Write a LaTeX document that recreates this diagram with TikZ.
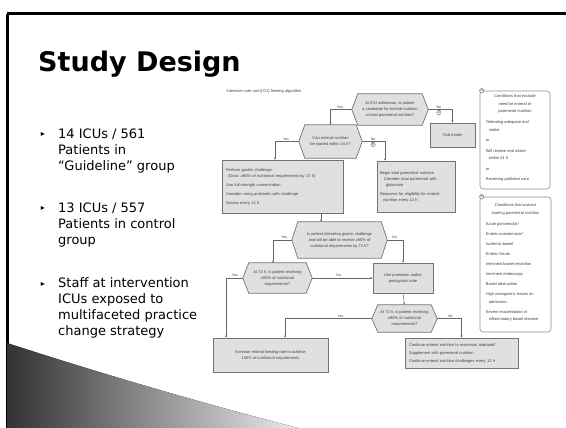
\documentclass[tikz,border=0pt]{standalone}
\usepackage{fontspec}
\setmainfont{DejaVu Sans}
\newfontfamily\chartfont{Liberation Sans}
\usetikzlibrary{arrows.meta, backgrounds}

\begin{document}
\begin{tikzpicture}[x=1pt, y=-1pt,
    box/.style={draw=black!55, fill=black!12, line width=0.7pt, inner sep=0pt, text=black!75, font=\chartfont\fontsize{4}{6}\selectfont},
    hexa/.style={inner sep=0pt, align=center, text=black!75, font=\chartfont\fontsize{4}{6}\selectfont},
    hexline/.style={draw=black!55, fill=black!12, line width=0.7pt},
    panel/.style={draw=black!45, rounded corners=3pt, line width=0.6pt, fill=white},
    plain/.style={inner sep=0pt, text=black!75, font=\chartfont\fontsize{4}{7.5}\selectfont},
    lbl/.style={inner sep=0.8pt, text=black!75, font=\chartfont\fontsize{3.6}{4}\selectfont},
    ltr/.style={draw=black!60, fill=white, circle, inner sep=0.4pt, line width=0.4pt, text=black!75, font=\chartfont\fontsize{3.4}{4}\selectfont},
    arr/.style={draw=black!60, line width=0.5pt, -{Stealth[length=2.2pt, width=2pt]}},
    bullet/.style={anchor=base west, align=left, inner sep=0pt, font=\fontsize{13}{16.3}\selectfont},
    bulmark/.style={anchor=base, inner sep=0pt, font=\fontsize{8}{8}\selectfont}
]
\useasboundingbox (0,0) rectangle (566,428);
\clip (0,0) rectangle (566,428);

% slide frame and swoosh
\draw[line width=3pt] (7,14) -- (580,14);
\draw[line width=3pt] (7,14) -- (7,440);
\fill[left color=black!80, right color=black!8] (7,343) .. controls (90,370) and (190,400) .. (298,428) -- (7,428) -- cycle;

\node[anchor=base west, inner sep=0pt, font=\fontsize{27}{30}\selectfont\bfseries] (title) at (38,72) {Study Design};

% bullets (base = last line)
\node[bulmark] (d1) at (43,137) {▸};
\node[bullet] (b1) at (58,170.6) {14 ICUs / 561\\Patients in\\“Guideline” group};
\node[bulmark] (d2) at (43,211) {▸};
\node[bullet] (b2) at (58,244.6) {13 ICUs / 557\\Patients in control\\group};
\node[bulmark] (d3) at (43,286) {▸};
\node[bullet] (b3) at (58,335.9) {Staff at intervention\\ICUs exposed to\\multifaceted practice\\change strategy};

% feeding algorithm
\node[plain] (cap) at (264,91) {Intensive care unit (ICU) feeding algorithm};

\node[hexa, minimum width=76, minimum height=31] (q1) at (390,109.5) {At ICU admission, is patient\\a candidate for enteral nutrition\\or total parenteral nutrition?};
\node[box, minimum width=45, minimum height=24] (oral) at (452.5,135) {Oral intake};
\node[hexa, minimum width=63, minimum height=33] (q2) at (330.5,141.5) {Can enteral nutrition\\be started within 24 h?};
\node[box, minimum width=121, minimum height=53, align=left, text width=113] (perf) at (282.5,186.5) {Perform gastric challenge\\\hspace{2pt}(Goal: ≥80\% of nutritional requirements by 72 h)\\[3pt]Use full-strength concentration\\[3pt]Consider using prokinetic with challenge\\[3pt]Assess every 12 h};
\node[box, minimum width=78, minimum height=51, align=left, text width=72] (tpn) at (416,186.5) {Begin total parenteral nutrition\\\hspace{4pt}Consider total parenteral with\\\hspace{6pt}glutamine\\[3pt]Reassess for eligibility for enteral\\\hspace{3pt}nutrition every 12 h};
\node[hexa, minimum width=95, minimum height=36] (q3) at (339.5,240) {Is patient tolerating gastric challenge\\and will be able to receive ≥80\% of\\nutritional requirements by 72 h?};
\node[hexa, minimum width=69, minimum height=30] (q4) at (277.5,278) {At 72 h, is patient receiving\\≥80\% of nutritional\\requirements?};
\node[box, minimum width=60, minimum height=30, align=center] (proki) at (403,278) {Use prokinetic and/or\\postpyloric tube};
\node[hexa, minimum width=65, minimum height=27] (q5) at (404.5,318.5) {At 72 h, is patient receiving\\≥80\% of nutritional\\requirements?};
\node[box, minimum width=115, minimum height=34, align=center] (incr) at (270.5,355) {Increase enteral feeding rate to achieve\\100\% of nutritional requirements};
\node[box, minimum width=113, minimum height=30, align=left, text width=105] (cont) at (461.5,353) {Continue enteral nutrition to maximum tolerated*\\[2pt]Supplement with parenteral nutrition\\[2pt]Continue enteral nutrition challenges every 12 h};

% hexagon outlines behind the question texts
\begin{scope}[on background layer]
  \foreach \q in {q1,q2,q3,q4,q5}
    \path[hexline] (\q.west) -- ([xshift=6pt]\q.north west) -- ([xshift=-6pt]\q.north east) -- (\q.east)
      -- ([xshift=-6pt]\q.south east) -- ([xshift=6pt]\q.south west) -- cycle;
\end{scope}

% side panels
\node[panel, minimum width=70, minimum height=98] (panA) at (515,140) {};
\node[ltr] (cA) at ([xshift=2pt]panA.north west) {A};
\node[plain, align=center, anchor=north] (hA) at ([yshift=-4pt]panA.north) {Conditions that exclude\\need for enteral or\\parenteral nutrition};
\node[plain, align=left, anchor=north west] (lA) at ([xshift=6pt, yshift=-30pt]panA.north west) {Tolerating adequate oral\\\hspace{3pt}intake\\[3pt]or\\[3pt]Will receive oral intake\\\hspace{3pt}within 24 h\\[3pt]or\\[3pt]Receiving palliative care};

\node[panel, minimum width=71, minimum height=135] (panB) at (515.5,264.5) {};
\node[ltr] (cB) at ([xshift=2pt]panB.north west) {B};
\node[plain, align=center, anchor=north] (hB) at ([yshift=-7pt]panB.north) {Conditions that warrant\\starting parenteral nutrition};
\node[plain, align=left, anchor=north west] (lB) at ([xshift=6pt, yshift=-26pt]panB.north west) {Acute pancreatitis*\\[2.5pt]Enteric anastomosis*\\[2.5pt]Ischemic bowel\\[2.5pt]Enteric fistula\\[2.5pt]Imminent bowel resection\\[2.5pt]Imminent endoscopy\\[2.5pt]Bowel obstruction\\[2.5pt]High nasogastric losses on\\\hspace{3pt}admission\\[2.5pt]Severe exacerbation of\\\hspace{3pt}inflammatory bowel disease};

% connectors
\draw[arr] (q1.west) -| node[lbl, pos=0.28, above] (y1) {Yes} (q2.north);
\draw[arr] (q1.east) -| node[lbl, pos=0.22, above] (n1) {No} node[ltr, pos=0.22, below=0.6pt] (cA2) {A} (oral.north);
\draw[arr] (q2.west) -| node[lbl, pos=0.27, above] (y2) {Yes} ([xshift=-7.5pt]perf.north);
\draw[arr] (q2.east) -| node[lbl, pos=0.24, above] (n2) {No} node[ltr, pos=0.24, below=0.6pt] (cB2) {B} ([xshift=-31pt]tpn.north);
\draw[arr] ([xshift=38.5pt]perf.south) -- ([xshift=-18.5pt]q3.north);
\draw[arr] (q3.west) -| node[lbl, pos=0.2, above] (y3) {Yes} ([xshift=-4.5pt]q4.north);
\draw[arr] (q3.east) -| node[lbl, pos=0.23, above] (n3) {No} (proki.north);
\draw[arr] (q4.west) -| node[lbl, pos=0.24, above] (y4) {Yes} ([xshift=-44.5pt]incr.north);
\draw[arr] (q4.east) -- node[lbl, pos=0.44, above] (n4) {No} (proki.west);
\draw[arr] (proki.south) -- (q5.north);
\draw[arr] (q5.west) -| node[lbl, pos=0.18, above] (y5) {Yes} ([xshift=14.5pt]incr.north);
\draw[arr] (q5.east) -| node[lbl, pos=0.27, above] (n5) {No} (cont.north);
\end{tikzpicture}
\end{document}
